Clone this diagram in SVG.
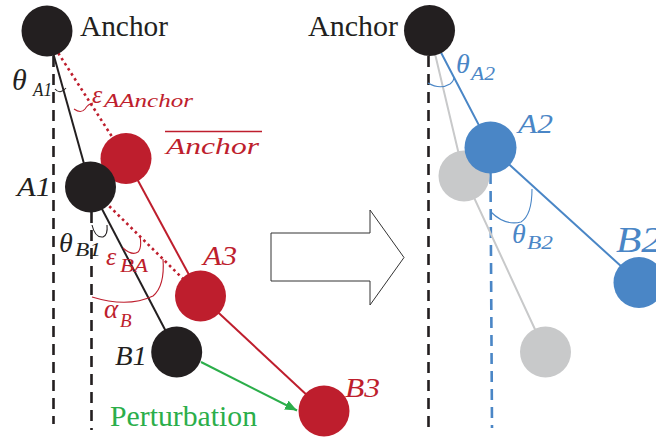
<svg xmlns="http://www.w3.org/2000/svg" width="656" height="441" viewBox="0 0 656 441">
<defs>
<style>
.blk{fill:#231F20}
.red{fill:#BE1E2D}
.blu{fill:#4A86C6}
.gry{fill:#C8C9CA}
.ln{fill:none;stroke-width:2}
.dash{fill:none;stroke-width:2.6;stroke-dasharray:11,7}
.dot{fill:none;stroke:#BE1E2D;stroke-width:2.6;stroke-dasharray:2.6,3.4}
.arc{fill:none;stroke-width:1.1}
.tr{font-family:"Liberation Serif","Times New Roman",serif}
.m{font-family:"Liberation Serif","Times New Roman",serif;font-style:italic}
</style>
<marker id="ah" viewBox="0 0 12 10" refX="12" refY="5" markerWidth="12" markerHeight="10" markerUnits="userSpaceOnUse" orient="auto">
<path d="M0,0 L12,5 L0,10 z" fill="#2BAE4A"/>
</marker>
</defs>
<rect width="656" height="441" fill="#fff"/>

<g id="connectors">
<line class="dash" x1="53.5" y1="56" x2="53.5" y2="424" stroke="#231F20"/>
<line class="dash" x1="91.5" y1="212" x2="91.5" y2="430" stroke="#231F20"/>
<line class="ln" x1="47" y1="31" x2="90.5" y2="187" stroke="#231F20"/>
<line class="ln" x1="90.5" y1="187" x2="176.7" y2="352" stroke="#231F20"/>
<line class="dot" x1="55" y1="48" x2="126" y2="158.5"/>
<line class="dot" x1="105" y1="202" x2="200.5" y2="296"/>
<line class="ln" x1="126" y1="158.5" x2="200.5" y2="296" stroke="#BE1E2D"/>
<line class="ln" x1="200.5" y1="296" x2="324" y2="411" stroke="#BE1E2D"/>
<line x1="201" y1="362" x2="297" y2="410.5" stroke="#2BAE4A" stroke-width="2" marker-end="url(#ah)"/>
<path class="arc" stroke="#231F20" d="M55,89 Q60,95 66,88"/>
<path class="arc" stroke="#BE1E2D" d="M74,109 Q81,114 85,109 Q88,104 93,103"/>
<path class="arc" stroke="#231F20" d="M92,225 Q95,238 103,237 Q108,235 107,225"/>
<path class="arc" stroke="#BE1E2D" d="M123,248 Q132,256 138,252 Q142,248 140,236"/>
<path class="arc" stroke="#BE1E2D" d="M92,297 Q128,308 153,296 Q165,286 163,259"/>
<line class="dash" x1="428.5" y1="56" x2="428.5" y2="428" stroke="#231F20"/>
<line class="dash" x1="490.5" y1="173" x2="492" y2="428" stroke="#4A86C6"/>
<polyline class="ln" points="429.5,30.5 464,176 545.5,352" stroke="#C8C9CA" stroke-width="2.5"/>
<polyline class="ln" points="429.5,30.5 490.5,147.5 639,282.5" stroke="#4A86C6"/>
<path class="arc" stroke="#4A86C6" d="M428,83 Q440,90 450,84 Q454,81 454,77"/>
<path class="arc" stroke="#4A86C6" d="M491,212 Q505,226 521,222 Q532,215 532,189"/>
</g>

<g id="transition-arrow">
<path d="M271,233 H370 V210 L404,257.5 L370,305 V281 H271 Z" fill="#fff" stroke="#333" stroke-width="1"/>
</g>

<g id="node-anchor-left">
<circle class="blk" cx="47" cy="31" r="25.5"/>
<text class="tr" x="80" y="36" font-size="29" fill="#231F20" textLength="88" lengthAdjust="spacingAndGlyphs">Anchor</text>
</g>
<g id="node-anchor-bar">
<circle class="red" cx="126" cy="158.5" r="25.5"/>
<line x1="165" y1="131.5" x2="262" y2="131.5" stroke="#BE1E2D" stroke-width="1.5"/>
<text class="m" x="166" y="154" font-size="24" fill="#BE1E2D" textLength="93" lengthAdjust="spacingAndGlyphs">Anchor</text>
</g>
<g id="node-A1">
<circle class="blk" cx="90.5" cy="187" r="25.5"/>
<text class="m" x="17" y="196" font-size="27" fill="#231F20" textLength="34" lengthAdjust="spacingAndGlyphs">A1</text>
</g>
<g id="node-A3">
<circle class="red" cx="200.5" cy="296" r="25.5"/>
<text class="m" x="203" y="265" font-size="28" fill="#BE1E2D" textLength="34" lengthAdjust="spacingAndGlyphs">A3</text>
</g>
<g id="node-B1">
<circle class="blk" cx="176.7" cy="352" r="25.5"/>
<text class="m" x="115" y="365" font-size="27" fill="#231F20" textLength="32" lengthAdjust="spacingAndGlyphs">B1</text>
</g>
<g id="node-B3">
<circle class="red" cx="324" cy="411" r="25.5"/>
<text class="m" x="345" y="397" font-size="28" fill="#BE1E2D" textLength="35" lengthAdjust="spacingAndGlyphs">B3</text>
</g>
<g id="label-theta-A1">
<text class="m" x="12" y="90" font-size="30" fill="#231F20">θ</text>
<text class="m" x="33" y="96" font-size="18" fill="#231F20" textLength="19" lengthAdjust="spacingAndGlyphs">A1</text>
</g>
<g id="label-eps-AAnchor">
<text class="m" x="92" y="103" font-size="26" fill="#BE1E2D">ε</text>
<text class="m" x="104" y="107" font-size="19" fill="#BE1E2D" textLength="89" lengthAdjust="spacingAndGlyphs">AAnchor</text>
</g>
<g id="label-theta-B1">
<text class="m" x="59" y="252" font-size="28" fill="#231F20">θ</text>
<text class="m" x="75" y="256" font-size="18" fill="#231F20" textLength="26" lengthAdjust="spacingAndGlyphs">B1</text>
</g>
<g id="label-eps-BA">
<text class="m" x="106" y="265" font-size="26" fill="#BE1E2D">ε</text>
<text class="m" x="120" y="272" font-size="19" fill="#BE1E2D" textLength="28" lengthAdjust="spacingAndGlyphs">BA</text>
</g>
<g id="label-alpha-B">
<text class="m" x="104" y="318" font-size="27" fill="#BE1E2D">α</text>
<text class="m" x="120" y="327" font-size="19" fill="#BE1E2D">B</text>
</g>
<g id="label-perturbation">
<text class="tr" x="110" y="426" font-size="29" fill="#2BAE4A" textLength="147" lengthAdjust="spacingAndGlyphs">Perturbation</text>
</g>

<g id="node-anchor-right">
<circle class="blk" cx="429.5" cy="30.5" r="25.5"/>
<text class="tr" x="308" y="36" font-size="29" fill="#231F20" textLength="90" lengthAdjust="spacingAndGlyphs">Anchor</text>
</g>
<g id="node-ghost-A1">
<circle class="gry" cx="464" cy="176" r="25.5"/>
</g>
<g id="node-ghost-B1">
<circle class="gry" cx="545.5" cy="352" r="25.5"/>
</g>
<g id="node-A2">
<circle class="blu" cx="490.5" cy="147.5" r="26"/>
<text class="m" x="518" y="133" font-size="27" fill="#4A86C6" textLength="35" lengthAdjust="spacingAndGlyphs">A2</text>
</g>
<g id="node-B2">
<circle class="blu" cx="639" cy="282.5" r="25.5"/>
<text class="m" x="616" y="252" font-size="36" fill="#4A86C6" textLength="46" lengthAdjust="spacingAndGlyphs">B2</text>
</g>
<g id="label-theta-A2">
<text class="m" x="456" y="73" font-size="28" fill="#4A86C6">θ</text>
<text class="m" x="471" y="80" font-size="18" fill="#4A86C6" textLength="24" lengthAdjust="spacingAndGlyphs">A2</text>
</g>
<g id="label-theta-B2">
<text class="m" x="512" y="243" font-size="28" fill="#4A86C6">θ</text>
<text class="m" x="527" y="249" font-size="18" fill="#4A86C6" textLength="26" lengthAdjust="spacingAndGlyphs">B2</text>
</g>
</svg>
